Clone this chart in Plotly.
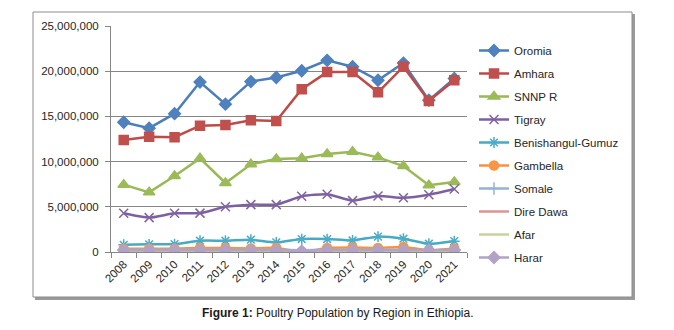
import plotly.graph_objects as go

years = [str(y) for y in range(2008, 2022)]

oromia = [14.35, 13.7, 15.3, 18.8, 16.35, 18.85, 19.3, 20.05, 21.2, 20.5, 19.0, 20.9, 16.8, 19.2]
amhara = [12.4, 12.75, 12.7, 13.97, 14.05, 14.57, 14.5, 18.0, 19.9, 19.9, 17.67, 20.5, 16.7, 19.0]
snnpr = [7.45, 6.6, 8.4, 10.36, 7.63, 9.7, 10.29, 10.36, 10.84, 11.1, 10.47, 9.51, 7.38, 7.74]
tigray = [4.28, 3.8, 4.28, 4.3, 5.0, 5.24, 5.24, 6.16, 6.38, 5.68, 6.2, 6.0, 6.34, 6.97]
benishangul = [0.8, 0.85, 0.88, 1.25, 1.25, 1.36, 1.06, 1.43, 1.43, 1.28, 1.7, 1.47, 0.92, 1.2]
gambella = [0.36, 0.36, 0.36, 0.45, 0.45, 0.4, 0.45, 0.0, 0.45, 0.5, 0.45, 0.55, 0.2, 0.4]
somale = [0.25, 0.25, 0.25, 0.25, 0.25, 0.25, 0.25, 0.2, 0.25, 0.25, 0.25, 0.25, 0.2, 0.25]
dire_dawa = [0.05, 0.05, 0.05, 0.05, 0.05, 0.05, 0.05, 0.05, 0.05, 0.05, 0.05, 0.05, 0.05, 0.05]
afar = [0.1, 0.1, 0.1, 0.1, 0.1, 0.1, 0.1, 0.1, 0.1, 0.1, 0.1, 0.1, 0.1, 0.1]
harar = [0.2, 0.2, 0.2, 0.2, 0.2, 0.2, 0.2, 0.1, 0.2, 0.2, 0.2, 0.2, 0.2, 0.2]

series = [
    ("Oromia", oromia, "#4A7EBB", "#4F81BD", "diamond", 9, "linear"),
    ("Amhara", amhara, "#BE4B48", "#C0504D", "square", 9, "linear"),
    ("SNNP R", snnpr, "#98B954", "#9BBB59", "triangle-up", 10, "linear"),
    ("Tigray", tigray, "#7D60A0", "#8064A2", "x-thin-open", 9, "spline"),
    ("Benishangul-Gumuz", benishangul, "#46AAC5", "#4BACC6", "asterisk-open", 9, "spline"),
    ("Gambella", gambella, "#F69240", "#F79646", "circle", 9, "spline"),
    ("Somale", somale, "#94B3D6", "#95B3D7", "cross-thin-open", 9, "spline"),
    ("Dire Dawa", dire_dawa, "#D99694", "#D99694", None, 0, "spline"),
    ("Afar", afar, "#C3D69B", "#C3D69B", None, 0, "spline"),
    ("Harar", harar, "#B3A2C7", "#B3A2C7", "diamond", 9, "spline"),
]

fig = go.Figure()
for i, (name, vals, lc, mc, sym, sz, shape) in enumerate(series):
    y = [v * 1e6 for v in vals]
    mode = "lines+markers" if sym else "lines"
    marker = dict(symbol=sym, size=sz, color=mc, line=dict(color=mc, width=1.5)) if sym else None
    fig.add_trace(go.Scatter(
        x=years, y=y, name=name, mode=mode,
        line=dict(color=lc, width=2.5, shape=shape, smoothing=0.5),
        marker=marker, legendgroup=f"g{i}",
    ))

W, H = 674, 330
L, R = 111, 467            # x pixel extent of plot area
MT, MB = 4, 4              # small margins so the legend has room
AX_TOP, AX_BOT = 26, 252   # y pixel extent of the y axis
pw = R - L
gh = H - MT - MB

def px_x(x):
    return (x - L) / pw

def px_y(y):
    return (H - MB - y) / gh

shapes = [
    dict(type="rect", xref="paper", yref="paper", layer="below",
         x0=px_x(35), x1=px_x(635), y0=px_y(300), y1=px_y(14),
         line=dict(width=0), fillcolor="#9a9a9a"),
    dict(type="rect", xref="paper", yref="paper", layer="below",
         x0=px_x(33), x1=px_x(632), y0=px_y(297), y1=px_y(12),
         line=dict(color="#8c8c8c", width=1), fillcolor="white"),
]

fig.update_layout(
    width=W, height=H, autosize=False,
    margin=dict(l=L, r=W - R, t=MT, b=MB, pad=0, autoexpand=False),
    paper_bgcolor="white", plot_bgcolor="rgba(0,0,0,0)",
    font=dict(family="Liberation Sans, Arial, sans-serif", size=11, color="#262626"),
    shapes=shapes,
    showlegend=True,
    legend=dict(x=px_x(474), y=px_y(36), xanchor="left", yanchor="top",
                bgcolor="rgba(0,0,0,0)", font=dict(size=11.5, color="#262626"),
                tracegroupgap=4, itemwidth=30),
    annotations=[dict(
        text="<b>Figure 1:</b> Poultry Population by Region in Ethiopia.",
        xref="paper", yref="paper", x=px_x(337), y=px_y(313),
        xanchor="center", yanchor="middle", showarrow=False,
        font=dict(family="Liberation Sans, Arial, sans-serif", size=12, color="#1a1a1a"),
    )],
)

fig.update_xaxes(
    type="category", tickangle=-45, showgrid=False, automargin=False,
    showline=True, linecolor="#868686", linewidth=1,
    ticks="outside", tickson="boundaries", ticklen=5, tickcolor="#868686",
    tickfont=dict(size=11.5, color="#262626"),
    range=[-0.5, 13.5], fixedrange=True,
)
fig.update_yaxes(
    domain=[px_y(AX_BOT), px_y(AX_TOP)], automargin=False,
    range=[0, 25e6], tickvals=[0, 5e6, 10e6, 15e6, 20e6, 25e6],
    tickformat=",d", showgrid=True, gridcolor="#868686", gridwidth=1,
    showline=True, linecolor="#868686", linewidth=1,
    ticks="outside", ticklen=5, tickcolor="#868686", ticklabelstandoff=4,
    tickfont=dict(size=11.5, color="#262626"), zeroline=False, fixedrange=True,
)

fig.write_html(
    "out.html",
    config={"displayModeBar": False},
    post_script="document.body.style.margin='0';document.body.style.overflow='hidden';",
)
